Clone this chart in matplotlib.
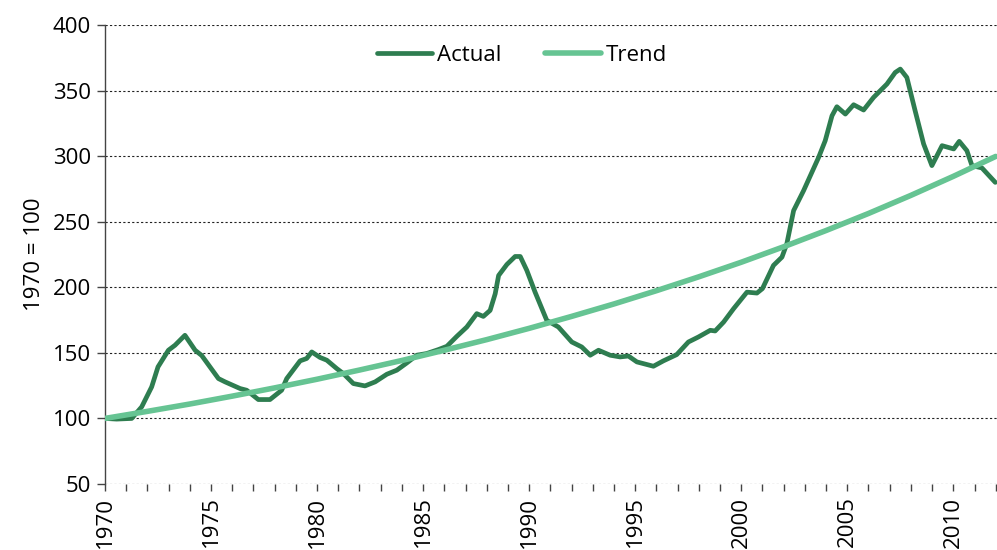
import numpy as np
import matplotlib
matplotlib.use('Agg')
import matplotlib.pyplot as plt
from matplotlib.ticker import MultipleLocator

# Actual index
actual_years = [1970.0, 1970.55, 1971.26, 1971.73, 1972.2, 1972.5, 1972.99, 1973.3, 1973.77,
                1974.25, 1974.56, 1974.95, 1975.35, 1975.66, 1976.37, 1976.68, 1977.23, 1977.78,
                1978.33, 1978.57, 1979.2, 1979.51, 1979.75, 1980.14, 1980.46, 1980.93, 1981.24,
                1981.71, 1982.26, 1982.74, 1983.29, 1983.76, 1984.23, 1984.7, 1985.17, 1985.72,
                1986.12, 1986.59, 1987.06, 1987.53, 1987.84, 1988.16, 1988.4, 1988.56, 1988.95,
                1989.34, 1989.58, 1989.89, 1990.28, 1990.83, 1991.38, 1992.01, 1992.48, 1992.88,
                1993.27, 1993.82, 1994.29, 1994.68, 1995.08, 1995.86, 1996.33, 1996.96, 1997.51,
                1997.98, 1998.54, 1998.77, 1999.17, 1999.64, 2000.27, 2000.74, 2001.0, 2001.52,
                2001.92, 2002.15, 2002.47, 2002.94, 2003.65, 2003.96, 2004.28, 2004.51, 2004.91,
                2005.3, 2005.77, 2006.24, 2006.87, 2007.26, 2007.5, 2007.81, 2008.2, 2008.6,
                2008.99, 2009.47, 2010.02, 2010.28, 2010.64, 2010.88, 2011.35, 2011.98]
actual_vals = [100, 99.5, 100, 108.8, 124, 139.3, 152, 155.8, 163.4,
               152, 148, 139.3, 130.4, 127.9, 122.8, 121.5, 114.4, 114.4,
               121.5, 130.4, 143.9, 145.7, 150.7, 146.5, 144.4, 138, 134.2,
               126.6, 124.8, 127.9, 133.7, 136.8, 142.3, 148.2, 149.5, 152.5,
               155, 162.6, 169.7, 179.9, 177.8, 182.4, 195.1, 209, 217.4,
               223.5, 223.5, 212.9, 196.3, 174.8, 169.7, 158.3, 154.5, 148.2,
               152, 148.2, 146.9, 147.6, 143.1, 139.8, 143.9, 148.7, 158.3,
               162.1, 167.2, 166.7, 173.5, 183.7, 196.3, 195.6, 199, 216.7,
               223, 233.2, 258.5, 273.7, 299.1, 311.8, 330.8, 337.7, 332.1,
               339.2, 335.2, 344.8, 355, 363.8, 366.4, 360, 334.6, 309.3,
               292.8, 308, 305.5, 311.3, 304.2, 292.8, 291, 280]

# Trend index
trend_years = [1970, 1972, 1974, 1976, 1978, 1980, 1982, 1984, 1986, 1988, 1990,
               1992, 1994, 1996, 1998, 2000, 2002, 2004, 2006, 2008, 2010, 2012]
trend_vals = [100, 105.4, 111, 117, 123.3, 129.9, 136.9, 144.2, 152, 160.1, 168.7,
              177.8, 187.3, 197.4, 208, 219.1, 230.9, 243.3, 256.3, 270.1, 284.6, 299.8]

plt.rcParams['font.family'] = ['Open Sans', 'DejaVu Sans']

fig = plt.figure(figsize=(9.97, 5.5), dpi=100)
ax = fig.add_axes([0.1053, 0.12, 0.8947, 0.8345])

ax.plot(actual_years, actual_vals, color='#2e7d50', lw=3.4, label='Actual',
        solid_joinstyle='round', solid_capstyle='round', zorder=3)
ax.plot(trend_years, trend_vals, color='#66c493', lw=4.0, label='Trend',
        solid_capstyle='round', zorder=4)

ax.set_xlim(1970, 2012.06)
ax.set_ylim(50, 400)
ax.yaxis.set_major_locator(MultipleLocator(50))
ax.xaxis.set_major_locator(MultipleLocator(5))
ax.xaxis.set_minor_locator(MultipleLocator(1))

ax.grid(axis='y', color='#222222', linestyle=(0, (2, 2)), linewidth=0.8)
ax.set_axisbelow(True)

for s in ['top', 'right', 'bottom']:
    ax.spines[s].set_visible(False)
ax.spines['left'].set_color('#444444')
ax.spines['left'].set_linewidth(1.0)

ax.tick_params(axis='y', direction='out', length=6, width=1, color='#444444',
               labelsize=16, pad=4)
ax.tick_params(axis='x', which='both', direction='out', length=5, width=1,
               color='#444444', labelsize=16, pad=4)
ax.set_xticklabels([f'{int(t)}' for t in ax.get_xticks()], rotation=90)
ax.set_xlim(1970, 2012.06)

ax.set_ylabel('1970 = 100', fontsize=16, labelpad=6)

ax.legend(loc='upper center', bbox_to_anchor=(0.467, 1.0), ncol=2, frameon=False,
          fontsize=16, handlelength=2.5, handletextpad=0.2, columnspacing=2.0)

fig.savefig('out.png', dpi=100)
